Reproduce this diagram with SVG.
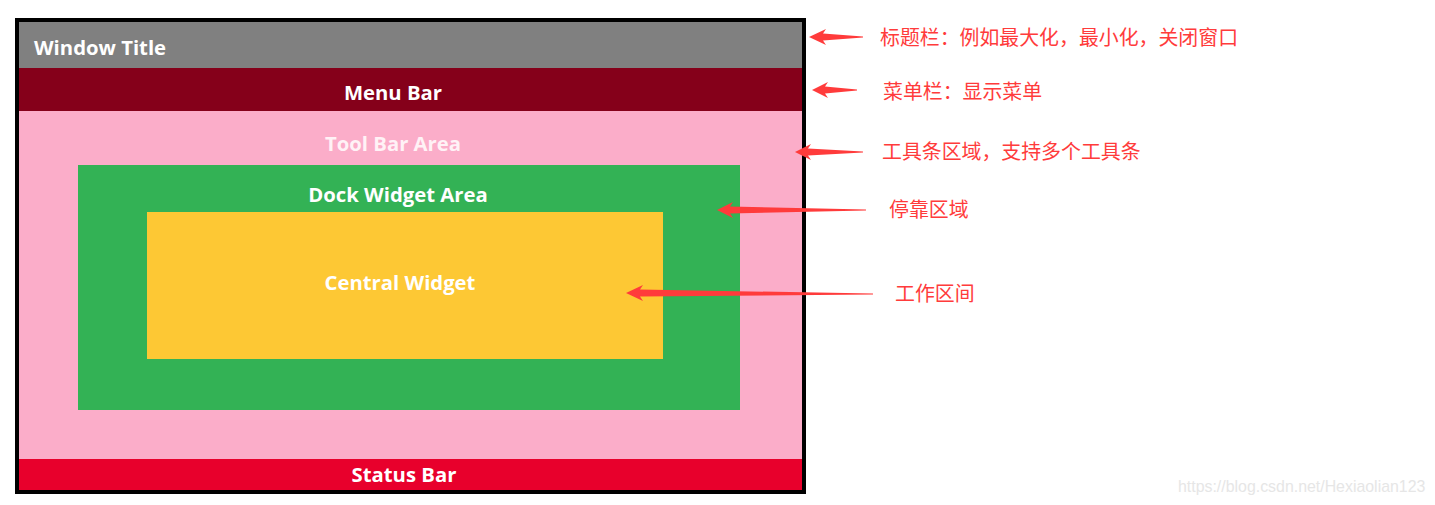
<svg xmlns="http://www.w3.org/2000/svg" width="1435" height="505" viewBox="0 0 1435 505">
<style>
.lbl{font-family:"Open Sans","Liberation Sans",sans-serif;font-weight:700;font-size:20.3px;fill:#ffffff}
.ctr{text-anchor:middle}
.ann{font-family:"Noto Sans CJK SC","Liberation Sans",sans-serif;font-size:19.9px;fill:#ff3b3b}
.arr{fill:#ff3b3b}
.wm{font-family:"Liberation Sans",Arial,sans-serif;font-size:15.9px;fill:#e6e6e6}
</style>
<rect width="1435" height="505" fill="#ffffff"/>
<g id="window">
<rect x="15" y="18" width="791" height="476" fill="#000000"/>
</g>
<g id="window-title">
<rect x="19" y="22" width="783" height="46" fill="#808080"/>
<text class="lbl" x="34" y="55">Window Title</text>
</g>
<g id="menu-bar">
<rect x="19" y="68" width="783" height="43" fill="#85001a"/>
<text class="lbl ctr" x="393" y="99.5">Menu Bar</text>
</g>
<g id="tool-bar-area">
<rect x="19" y="111" width="783" height="348" fill="#fbadc9"/>
<text class="lbl ctr" x="393" y="150.5" style="fill:#fff2f6">Tool Bar Area</text>
</g>
<g id="dock-widget-area">
<rect x="78" y="165" width="662" height="245" fill="#33b255"/>
<text class="lbl ctr" x="398" y="201.5">Dock Widget Area</text>
</g>
<g id="central-widget">
<rect x="147" y="212" width="516" height="147" fill="#fdc834"/>
<text class="lbl ctr" x="400" y="289.5">Central Widget</text>
</g>
<g id="status-bar">
<rect x="19" y="459" width="783" height="31" fill="#e8002c"/>
<text class="lbl ctr" x="404" y="482">Status Bar</text>
</g>
<g id="connectors">
<path class="arr" d="M809,37 L826,29 L823,33.5 L863,36.5 L863,37.5 L823,40.5 L826,45 Z"/>
<path class="arr" d="M812,90 L828,82 L825,86.5 L857,89.5 L857,90.5 L825,93.5 L828,98 Z"/>
<path class="arr" d="M795,152 L811,144 L808,148.5 L863,151.5 L863,152.5 L808,155.5 L811,160 Z"/>
<path class="arr" d="M717,210 L733,202 L730,206.5 L866,209.5 L866,210.5 L730,213.5 L733,218 Z"/>
<path class="arr" d="M626,293 L643,285 L640,289.5 L873,293.5 L873,294.5 L640,296.5 L643,301 Z"/>
</g>
<g id="annotations">
<text class="ann" x="880" y="45">标题栏：例如最大化，最小化，关闭窗口</text>
<text class="ann" x="883" y="98.5">菜单栏：显示菜单</text>
<text class="ann" x="882" y="159">工具条区域，支持多个工具条</text>
<text class="ann" x="889" y="217">停靠区域</text>
<text class="ann" x="895" y="301">工作区间</text>
</g>
<text class="wm" x="1178" y="492">https://blog.csdn.net/Hexiaolian123</text>
</svg>
